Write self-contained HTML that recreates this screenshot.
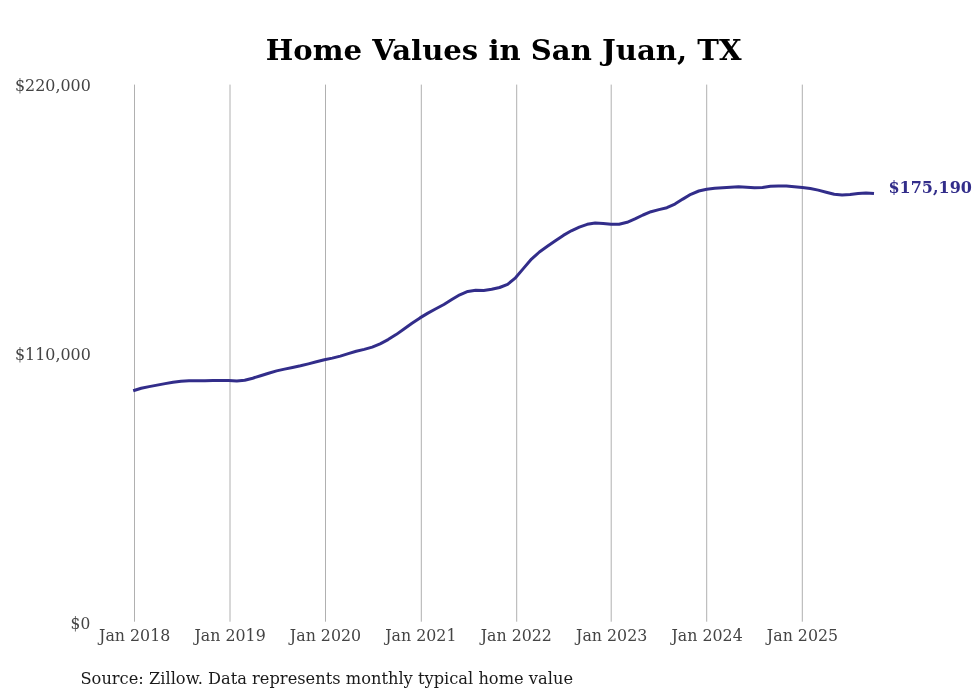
<!DOCTYPE html>
<html><head><meta charset="utf-8"><title>Home Values in San Juan, TX</title>
<style>
html,body{margin:0;padding:0;background:#fff;}
body{width:980px;height:699px;overflow:hidden;}
svg{display:block;}
text{font-family:"DejaVu Serif","Liberation Serif",serif;}
</style></head><body>
<svg width="980" height="699" viewBox="0 0 980 699">
<rect width="980" height="699" fill="#ffffff"/>
<g stroke="#b0b0b0" stroke-width="1">
<line x1="134.50" y1="84.6" x2="134.50" y2="621.7"/>
<line x1="230.00" y1="84.6" x2="230.00" y2="621.7"/>
<line x1="325.50" y1="84.6" x2="325.50" y2="621.7"/>
<line x1="421.30" y1="84.6" x2="421.30" y2="621.7"/>
<line x1="516.70" y1="84.6" x2="516.70" y2="621.7"/>
<line x1="611.20" y1="84.6" x2="611.20" y2="621.7"/>
<line x1="706.70" y1="84.6" x2="706.70" y2="621.7"/>
<line x1="802.30" y1="84.6" x2="802.30" y2="621.7"/>
</g>
<path d="M133.2,390.8 L141.2,388.3 L149.1,386.6 L157.1,385.1 L165.1,383.6 L173.0,382.2 L181.0,381.2 L189.0,380.8 L196.9,380.7 L204.9,380.7 L212.9,380.6 L220.8,380.5 L228.8,380.6 L236.8,380.9 L244.7,380.3 L252.7,378.2 L260.6,375.7 L268.6,373.2 L276.6,370.9 L284.5,369.1 L292.5,367.5 L300.5,365.8 L308.4,363.9 L316.4,361.8 L324.4,359.8 L332.3,358.1 L340.3,356.1 L348.3,353.6 L356.2,351.3 L364.2,349.4 L372.2,347.1 L380.1,343.8 L388.1,339.6 L396.1,334.6 L404.0,329.0 L412.0,323.3 L420.0,317.9 L427.9,313.1 L435.9,308.8 L443.9,304.5 L451.8,299.6 L459.8,294.8 L467.8,291.4 L475.7,290.3 L483.7,290.4 L491.7,289.3 L499.6,287.5 L507.6,284.3 L515.5,277.8 L523.5,268.4 L531.5,259.1 L539.4,252.0 L547.4,246.3 L555.4,240.7 L563.3,235.4 L571.3,230.8 L579.3,227.1 L587.2,224.3 L595.2,222.9 L603.2,223.4 L611.1,224.3 L619.1,224.2 L627.1,222.3 L635.0,218.9 L643.0,215.0 L651.0,211.7 L658.9,209.6 L666.9,207.7 L674.9,204.1 L682.8,199.1 L690.8,194.3 L698.8,191.0 L706.7,189.2 L714.7,188.2 L722.7,187.7 L730.6,187.2 L738.6,186.8 L746.6,187.2 L754.5,187.7 L762.5,187.4 L770.4,186.3 L778.4,185.9 L786.4,186.1 L794.3,186.8 L802.3,187.5 L810.3,188.5 L818.2,190.1 L826.2,192.2 L834.2,194.2 L842.1,195.0 L850.1,194.6 L858.1,193.5 L866.0,192.9 L874.0,193.6" fill="none" stroke="#322d8a" stroke-width="3" stroke-linejoin="round" stroke-linecap="butt"/>
<text transform="translate(265.85,59.50) scale(1.0790,1)" font-size="27" font-weight="bold" fill="#000000">Home Values in San Juan, TX</text>
<text transform="translate(14.93,90.70) scale(0.9146,1)" font-size="17.4" font-weight="normal" fill="#444444">$220,000</text>
<text transform="translate(14.93,359.90) scale(0.9146,1)" font-size="17.4" font-weight="normal" fill="#444444">$110,000</text>
<text transform="translate(70.57,628.70) scale(0.8872,1)" font-size="17.4" font-weight="normal" fill="#444444">$0</text>
<text transform="translate(888.39,192.90) scale(0.9422,1)" font-size="17" font-weight="bold" fill="#322d8a">$175,190</text>
<text transform="translate(80.47,683.60) scale(0.9566,1)" font-size="17" font-weight="normal" fill="#1a1a1a">Source: Zillow. Data represents monthly typical home value</text>
<text transform="translate(99.06,640.80) scale(0.9092,1)" font-size="17.4" font-weight="normal" fill="#444444">Jan 2018</text>
<text transform="translate(194.46,640.80) scale(0.9092,1)" font-size="17.4" font-weight="normal" fill="#444444">Jan 2019</text>
<text transform="translate(289.86,640.80) scale(0.9092,1)" font-size="17.4" font-weight="normal" fill="#444444">Jan 2020</text>
<text transform="translate(385.26,640.80) scale(0.9092,1)" font-size="17.4" font-weight="normal" fill="#444444">Jan 2021</text>
<text transform="translate(480.66,640.80) scale(0.9092,1)" font-size="17.4" font-weight="normal" fill="#444444">Jan 2022</text>
<text transform="translate(576.06,640.80) scale(0.9092,1)" font-size="17.4" font-weight="normal" fill="#444444">Jan 2023</text>
<text transform="translate(671.46,640.80) scale(0.9092,1)" font-size="17.4" font-weight="normal" fill="#444444">Jan 2024</text>
<text transform="translate(766.86,640.80) scale(0.9092,1)" font-size="17.4" font-weight="normal" fill="#444444">Jan 2025</text>
</svg>
</body></html>
